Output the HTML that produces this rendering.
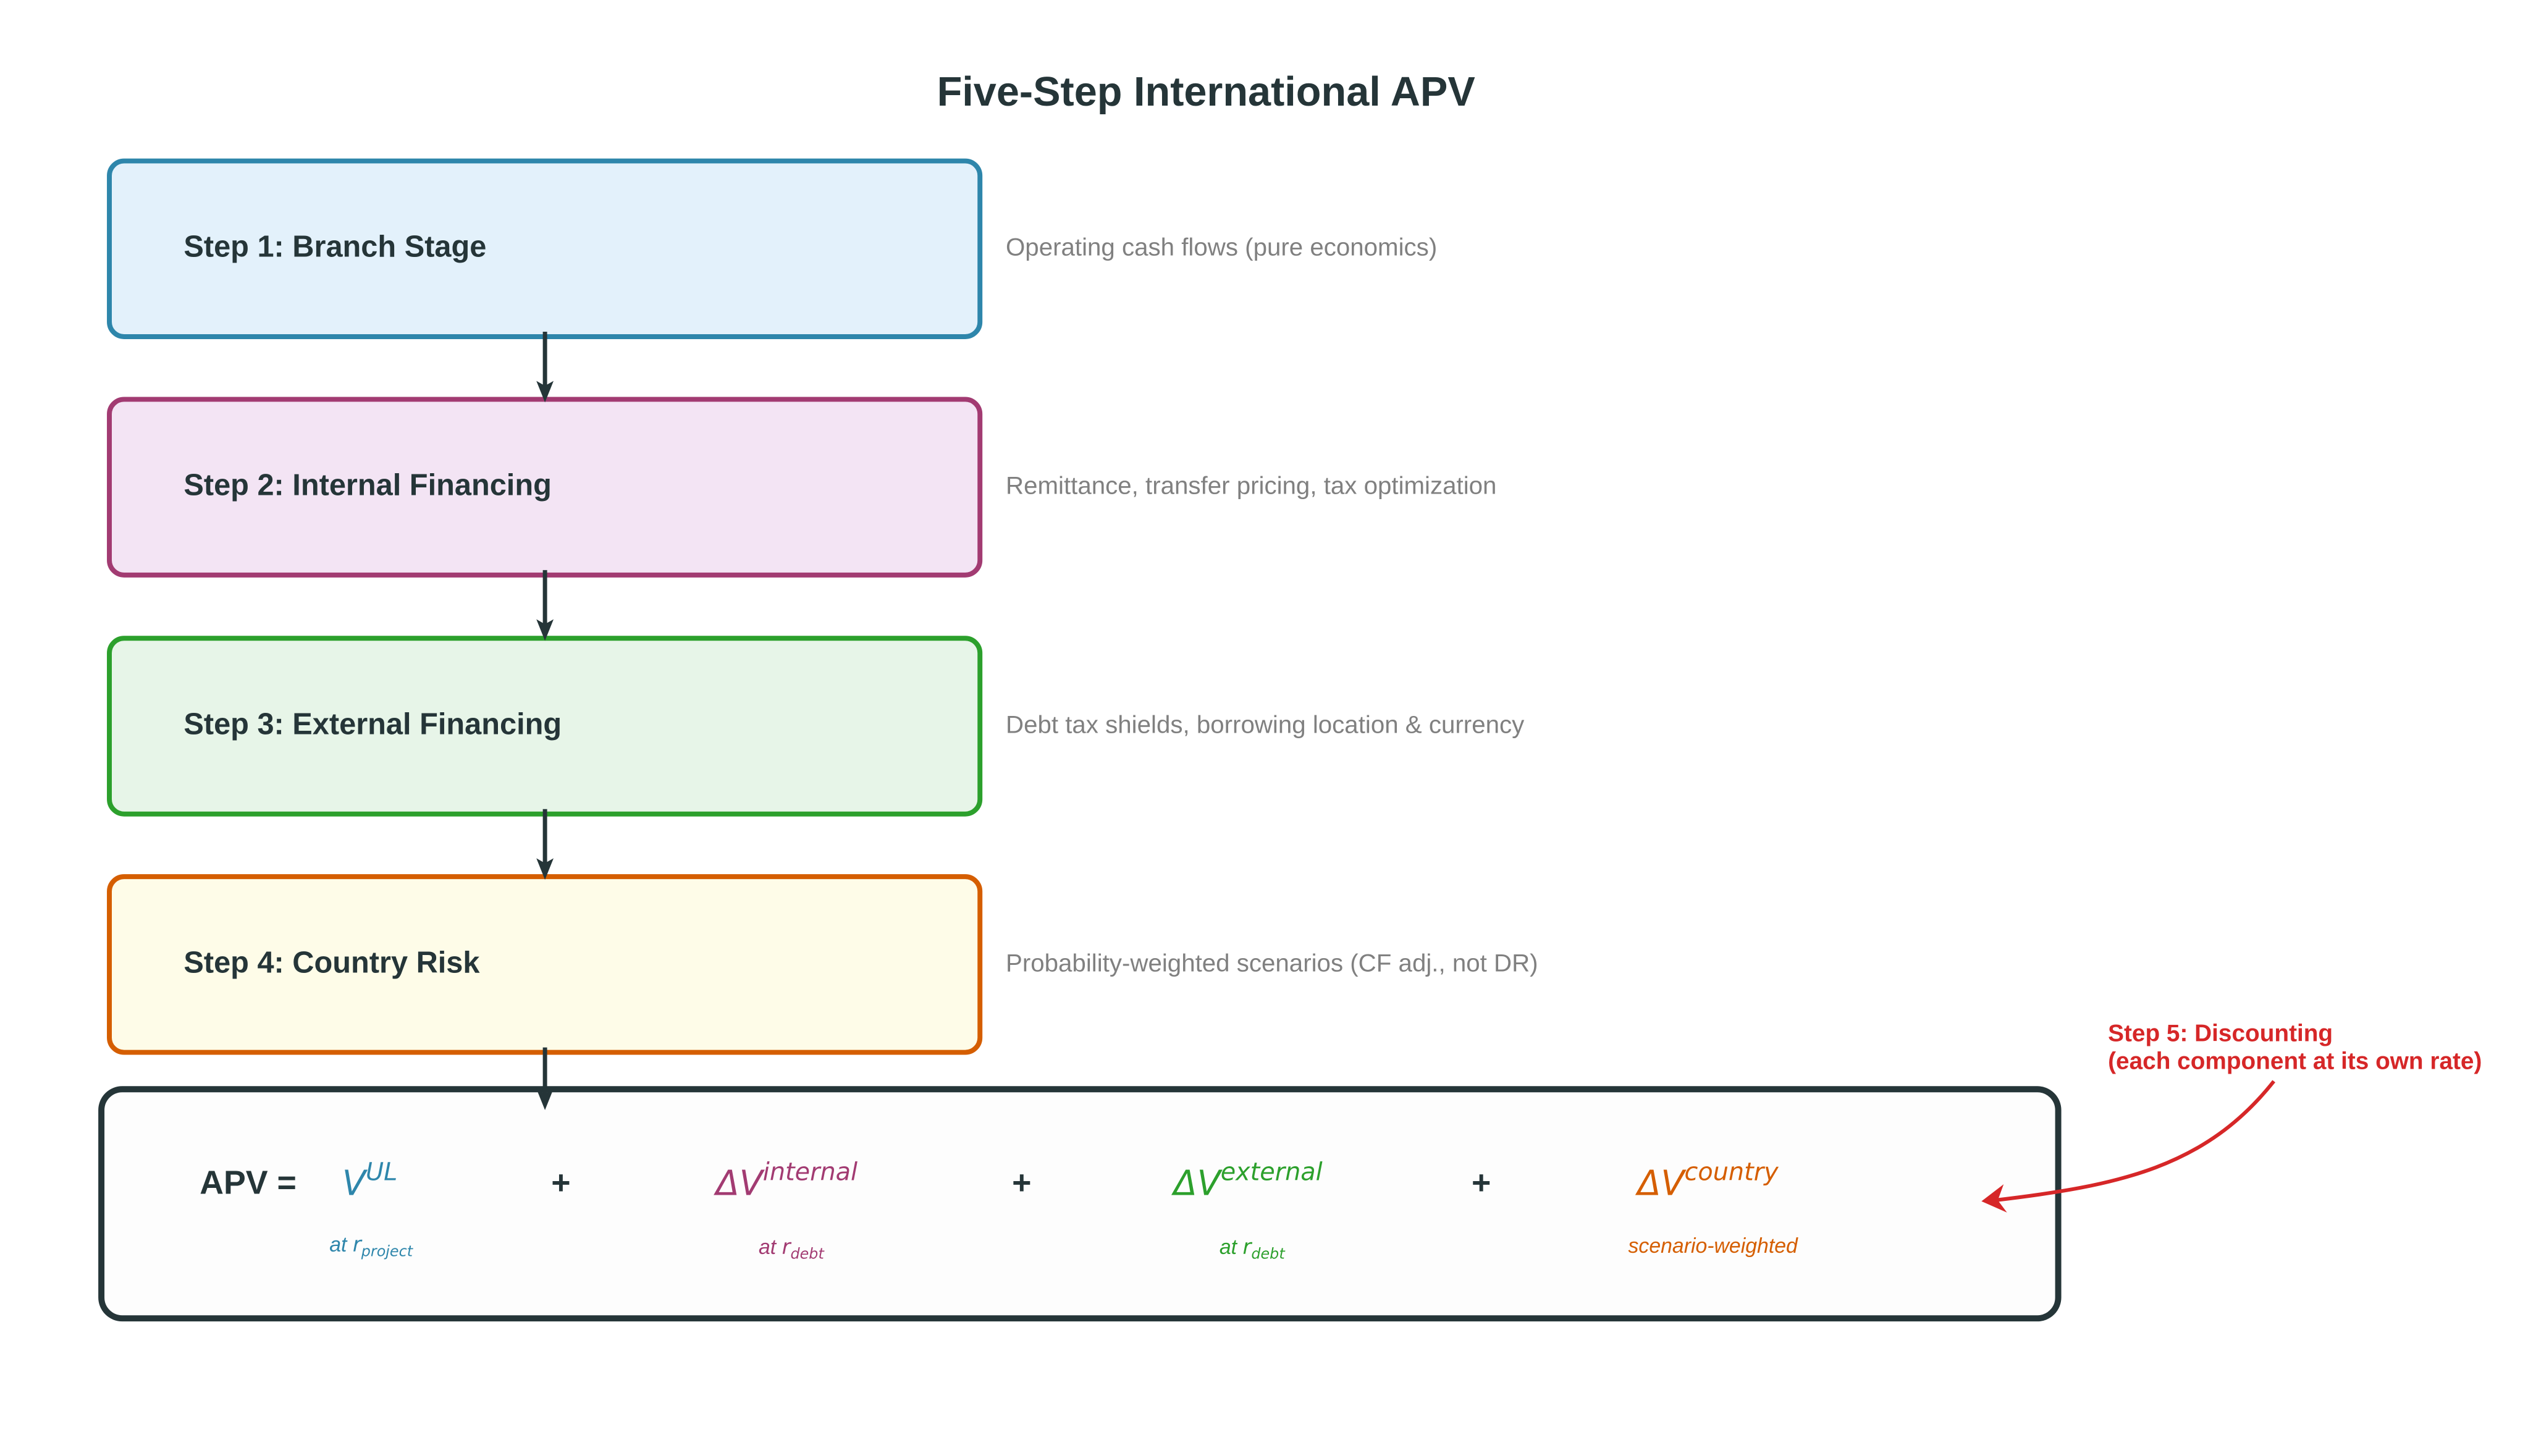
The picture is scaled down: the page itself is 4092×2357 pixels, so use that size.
<!DOCTYPE html>
<html><head><meta charset="utf-8"><style>
body{margin:0;background:#fff;}
</style></head><body>
<svg width="4092" height="2352" viewBox="0 0 4092 2352" xmlns="http://www.w3.org/2000/svg" font-family="Liberation Sans, sans-serif">
<rect width="4092" height="2352" fill="#fff"/>
<g transform="scale(0.9945)">
<text x="1963" y="172" text-anchor="middle" font-size="67" font-weight="bold" fill="#253538">Five-Step International APV</text>
<g stroke-width="8">
<rect x="178" y="262" width="1417" height="286" rx="24" fill="#e3f1fb" stroke="#2e86ab"/>
<rect x="178" y="650" width="1417" height="286" rx="24" fill="#f3e4f4" stroke="#a23b72"/>
<rect x="178" y="1039" width="1417" height="286" rx="24" fill="#e7f5e8" stroke="#2ca02c"/>
<rect x="178" y="1427" width="1417" height="286" rx="24" fill="#fefce8" stroke="#d55e00"/>
</g>
<g font-size="49" font-weight="bold" fill="#253538">
<text x="299" y="418">Step 1: Branch Stage</text>
<text x="299" y="806">Step 2: Internal Financing</text>
<text x="299" y="1195">Step 3: External Financing</text>
<text x="299" y="1583">Step 4: Country Risk</text>
</g>
<g font-size="40.5" fill="#808080">
<text x="1637" y="416">Operating cash flows (pure economics)</text>
<text x="1637" y="804">Remittance, transfer pricing, tax optimization</text>
<text x="1637" y="1193">Debt tax shields, borrowing location &amp; currency</text>
<text x="1637" y="1581">Probability-weighted scenarios (CF adj., not DR)</text>
</g>
<rect x="165" y="1772" width="3185" height="373" rx="34" fill="#fdfdfd" stroke="#253538" stroke-width="10" transform="translate(0,1)"/>
<g stroke="#253538" stroke-width="7" fill="none">
<line x1="887" y1="540" x2="887" y2="640"/>
<line x1="887" y1="928" x2="887" y2="1029"/>
<line x1="887" y1="1317" x2="887" y2="1417"/>
<line x1="887" y1="1705" x2="887" y2="1785"/>
</g>
<g fill="#253538">
<path d="M873,620 L887,655 L901,620 L887,628 z"/>
<path d="M873,1008 L887,1043 L901,1008 L887,1016 z"/>
<path d="M873,1397 L887,1432 L901,1397 L887,1405 z"/>
<path d="M873,1772 L887,1807 L901,1772 L887,1780 z"/>
</g>
<g transform="translate(0,3)">
<text x="325" y="1940" font-size="54" font-weight="bold" fill="#253538">APV  =</text>
<g font-family="DejaVu Sans, sans-serif" font-style="italic" font-size="56">
<text x="557" y="1942" fill="#2e86ab">V<tspan font-size="40" dy="-24">UL</tspan></text>
<text x="1165" y="1942" fill="#a23b72">ΔV<tspan font-size="40" dy="-24">internal</tspan></text>
<text x="1910" y="1942" fill="#2ca02c">ΔV<tspan font-size="40" dy="-24">external</tspan></text>
<text x="2665" y="1942" fill="#d55e00">ΔV<tspan font-size="40" dy="-24">country</tspan></text>
</g>
<g font-size="54" font-weight="bold" fill="#253538" text-anchor="middle">
<text x="913" y="1940">+</text><text x="1663" y="1940">+</text><text x="2411" y="1940">+</text>
</g>
<g font-style="italic" font-size="34" text-anchor="middle">
<text x="604" y="2034" fill="#2e86ab">at <tspan font-family="DejaVu Sans, sans-serif">r<tspan font-size="24" dy="8">project</tspan></tspan></text>
<text x="1288" y="2038" fill="#a23b72">at <tspan font-family="DejaVu Sans, sans-serif">r<tspan font-size="24" dy="8">debt</tspan></tspan></text>
<text x="2038" y="2038" fill="#2ca02c">at <tspan font-family="DejaVu Sans, sans-serif">r<tspan font-size="24" dy="8">debt</tspan></tspan></text>
<text x="2788" y="2036" fill="#d55e00">scenario-weighted</text>
</g>
</g>
<g font-size="39" font-weight="bold" fill="#d62728">
<text x="3431" y="1695">Step 5: Discounting</text>
<text x="3431" y="1740">(each component at its own rate)</text>
</g>
<path d="M3701,1760 C3590,1900 3450,1930 3245,1954" stroke="#d62728" stroke-width="6" fill="none"/>
<path d="M3258,1932 L3228,1955 L3262,1970 L3250,1954 z" fill="#d62728" stroke="#d62728" stroke-width="3"/>
</g>
</svg>
</body></html>
